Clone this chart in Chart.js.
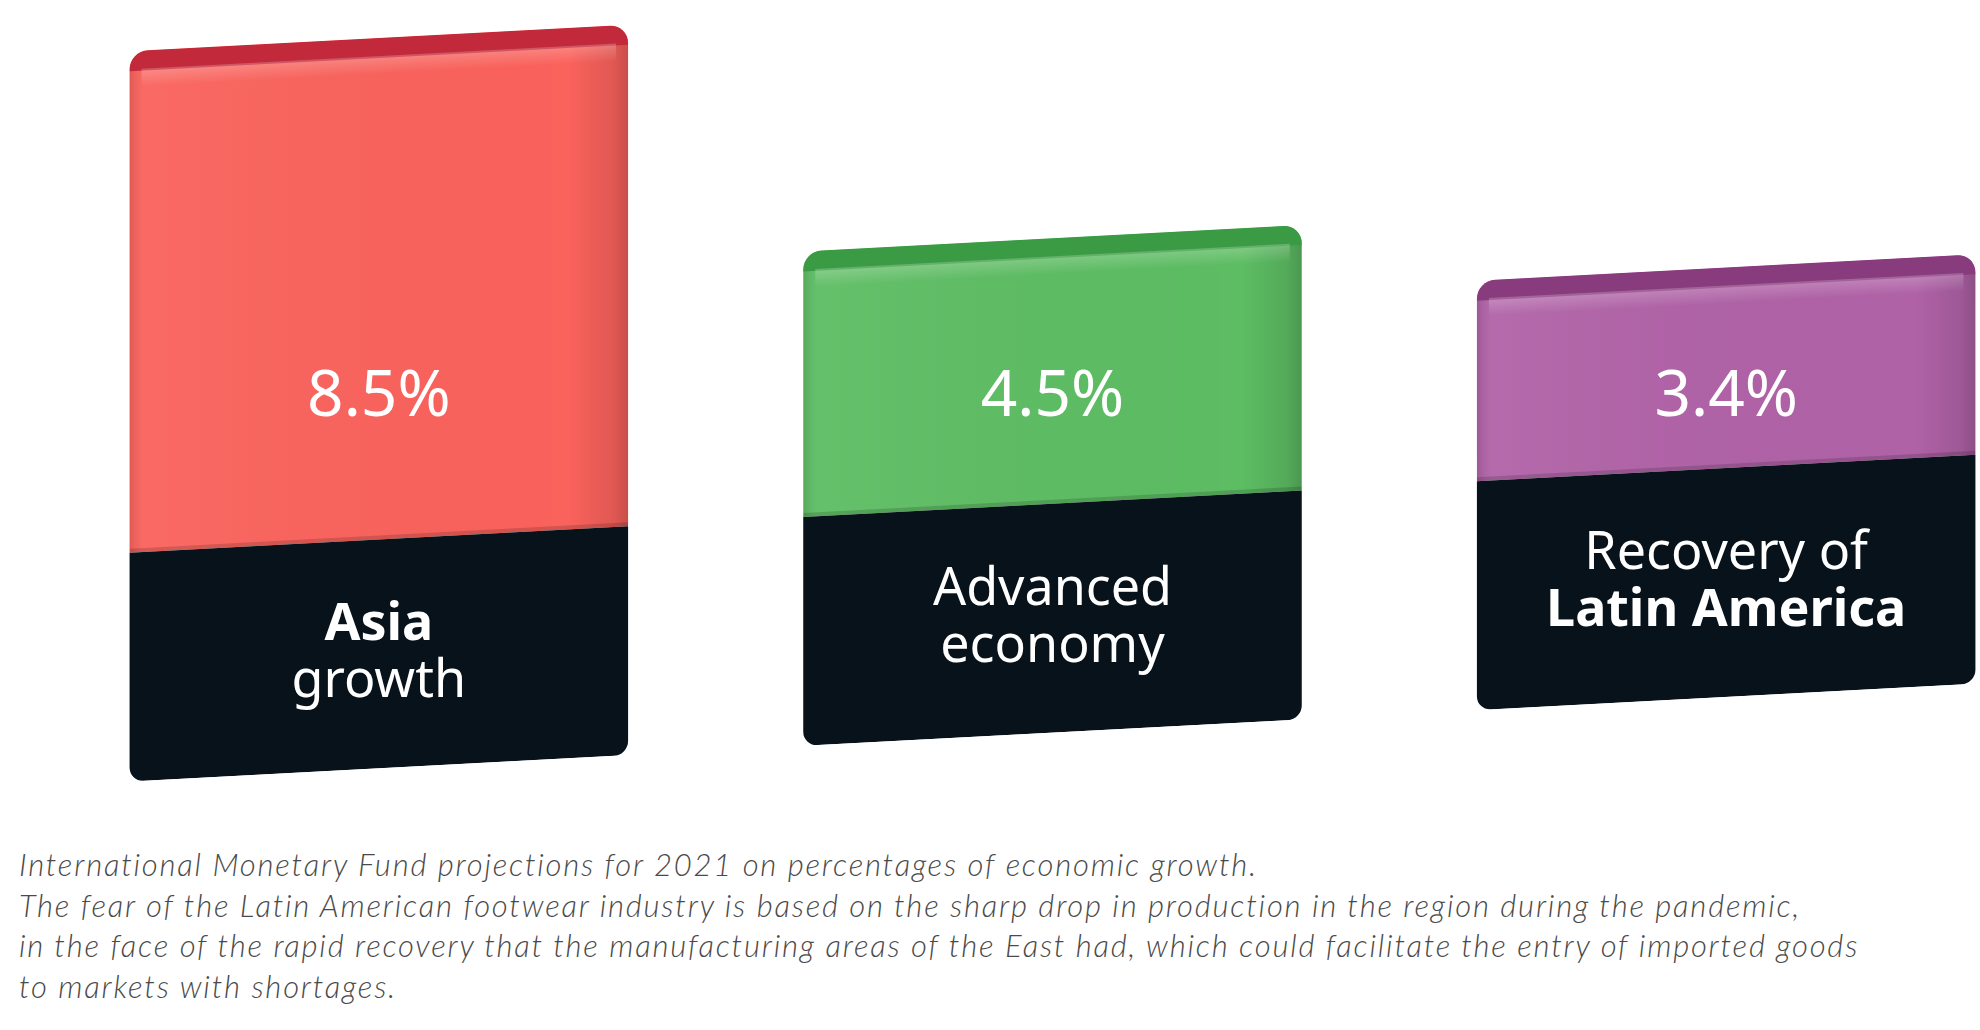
<!DOCTYPE html>
<html lang="en">
<head>
    <meta charset="UTF-8">
    <title>IMF growth projections 2021</title>
    <script src="https://cdn.jsdelivr.net/npm/chart.js"></script>
    <style>
        html, body {
            margin: 0;
            padding: 0;
            background: #fff;
            overflow: hidden;
        }
        #wrap {
            position: absolute;
            left: 0;
            top: 0;
            width: 2063px;
            height: 790px;
        }
        #note {
            position: absolute;
            left: 19px;
            top: 844px;
            margin: 0;
            font-family: "Lato", "Liberation Sans", sans-serif;
            font-style: italic;
            font-weight: 300;
            font-size: 31px;
            line-height: 40.5px;
            color: #4a4a4a;
            white-space: nowrap;
        }
    </style>
</head>
<body>
<div id="wrap"><canvas id="growthChart"></canvas></div>
<p id="note"><span>International Monetary Fund projections for 2021 on percentages of economic growth.</span><br><span id="longLine">The fear of the Latin American footwear industry is based on the sharp drop in production in the region during the pandemic,</span><br><span>in the face of the rapid recovery that the manufacturing areas of the East had, which could facilitate the entry of imported goods</span><br><span>to markets with shortages.</span></p>
<script>
    // data
    const regions = ['Asia growth', 'Advanced economy', 'Recovery of Latin America'];
    const growth = [8.5, 4.5, 3.4];
    const valueLabels = ['8.5%', '4.5%', '3.4%'];
    const nameLines = [['Asia', 'growth'], ['Advanced', 'economy'], ['Recovery of', 'Latin America']];
    const boldLine = [0, -1, 1];

    // look
    const topColors = ['#fa625c', '#5dbd63', '#b062a7'];
    const lipColors = ['#c22a3b', '#3b9b45', '#883b7d'];
    const plateColor = '#07121a';
    const LABEL_BLOCK = 3.88;     // height of the dark name plate, in % units
    const VALUE_TEXT_AT = 6.27;   // level where the % figures sit
    const SHEAR = -0.053;         // fake perspective tilt
    const PIVOT_X = 385;

    // stretch the caption spacing so it runs as wide as the original
    const note = document.getElementById('note');
    const longLine = document.getElementById('longLine');
    const natural = longLine.getBoundingClientRect().width;
    note.style.letterSpacing = ((1781 - natural) / longLine.textContent.length) + 'px';

    const blockLook = {
        id: 'blockLook',
        beforeDatasetsDraw(chart) {
            const ctx = chart.ctx;
            ctx.save();
            ctx.transform(1, SHEAR, 0, 1, 0, -SHEAR * PIVOT_X);
        },
        afterDatasetsDraw(chart) {
            const ctx = chart.ctx;
            const tops = chart.getDatasetMeta(1).data;
            const plates = chart.getDatasetMeta(0).data;

            tops.forEach((bar, i) => {
                const { x, y, base, width } = bar.getProps(['x', 'y', 'base', 'width'], true);
                const left = x - width / 2;
                const right = x + width / 2;
                const h = base - y;
                ctx.save();
                ctx.beginPath();
                ctx.roundRect(left, y, width, h, [18, 18, 0, 0]);
                ctx.clip();

                let g = ctx.createLinearGradient(left, 0, right, 0);
                g.addColorStop(0, 'rgba(0,0,0,0.10)');
                g.addColorStop(0.03, 'rgba(255,255,255,0.05)');
                g.addColorStop(0.88, 'rgba(0,0,0,0)');
                g.addColorStop(0.97, 'rgba(0,0,0,0.10)');
                g.addColorStop(1, 'rgba(0,0,0,0.20)');
                ctx.fillStyle = g;
                ctx.fillRect(left, y, width, h);

                // top lip
                ctx.fillStyle = lipColors[i];
                ctx.beginPath();
                ctx.roundRect(left, y, width, 20, [18, 18, 0, 0]);
                ctx.fill();
                let hl = ctx.createLinearGradient(0, y + 18, 0, y + 36);
                hl.addColorStop(0, 'rgba(255,255,255,0.22)');
                hl.addColorStop(1, 'rgba(255,255,255,0)');
                ctx.fillStyle = hl;
                ctx.fillRect(left + 12, y + 18, width - 24, 18);

                // thin seam over the plate
                ctx.fillStyle = 'rgba(0,0,0,0.15)';
                ctx.fillRect(left, base - 4, width, 4);
                ctx.restore();
            });
            ctx.restore();

            // text, kept upright
            const yScale = chart.scales.y;
            const tilt = (x) => SHEAR * (x - PIVOT_X);
            ctx.save();
            ctx.fillStyle = '#ffffff';
            ctx.textAlign = 'center';
            ctx.textBaseline = 'middle';

            tops.forEach((bar, i) => {
                ctx.font = '400 64px "Noto Sans", sans-serif';
                ctx.fillText(valueLabels[i], bar.x, yScale.getPixelForValue(VALUE_TEXT_AT));
            });

            plates.forEach((bar, i) => {
                const { x, y, base } = bar.getProps(['x', 'y', 'base'], true);
                const mid = (y + base) / 2 + tilt(x);
                nameLines[i].forEach((line, k) => {
                    ctx.font = (boldLine[i] === k ? '700 ' : '400 ') + '52px "Noto Sans", sans-serif';
                    ctx.fillText(line, x, mid + (k - 0.5) * 57);
                });
            });
            ctx.restore();
        }
    };

    new Chart(document.getElementById('growthChart'), {
        type: 'bar',
        data: {
            labels: regions,
            datasets: [
                {
                    label: 'name plate',
                    data: regions.map(() => LABEL_BLOCK),
                    backgroundColor: plateColor,
                    borderSkipped: false,
                    borderRadius: { topLeft: 0, topRight: 0, bottomLeft: 14, bottomRight: 14 }
                },
                {
                    label: 'growth %',
                    data: growth,
                    backgroundColor: topColors,
                    borderSkipped: false,
                    borderRadius: { topLeft: 18, topRight: 18, bottomLeft: 0, bottomRight: 0 }
                }
            ]
        },
        options: {
            responsive: true,
            maintainAspectRatio: false,
            animation: false,
            layout: { padding: { left: 42, right: 0, top: 0, bottom: 22 } },
            datasets: { bar: { categoryPercentage: 1, barPercentage: 0.74 } },
            scales: {
                x: { stacked: true, display: false },
                y: { stacked: true, display: false, min: 0, max: 13.02 }
            },
            plugins: {
                legend: { display: false },
                tooltip: { enabled: false }
            }
        },
        plugins: [blockLook]
    });
</script>
</body>
</html>
